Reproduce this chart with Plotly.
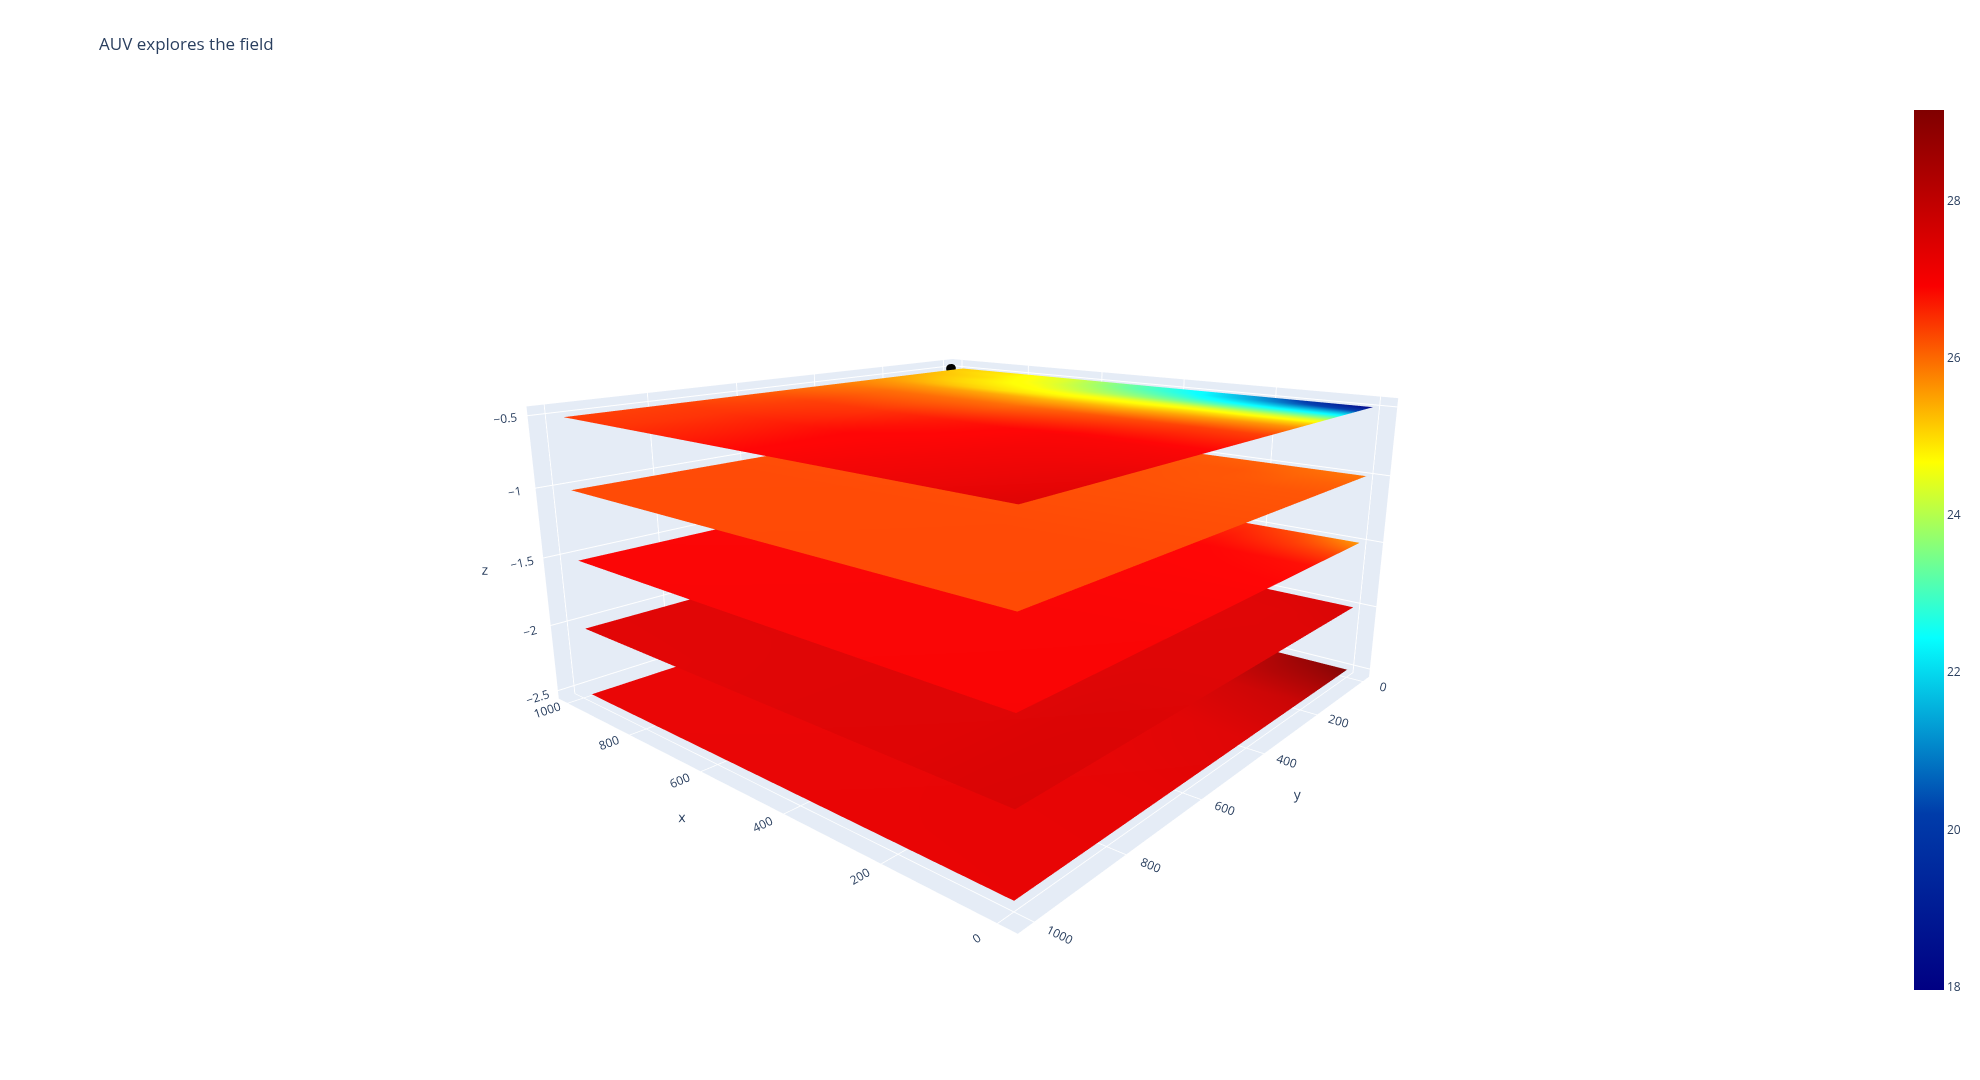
import plotly.graph_objects as go

title_text = "AUV explores the field"
jet_colors = ["rgb(0,0,131)", "rgb(0,60,170)", "rgb(5,255,255)", "rgb(255,255,0)", "rgb(250,0,0)", "rgb(128,0,0)"]
jet_stops = [0.0, 0.2, 0.4, 0.6, 0.8, 1.0]
color_min = 17.96
color_max = 29.15

top_x = [0, 125, 230, 330, 495, 640, 810, 970]
top_y = [0, 50, 100, 150, 200, 250, 300, 400, 600, 800, 1000]
top_values = [
    [18.0, 20.0, 21.3, 22.3, 23.3, 24.2, 24.9, 25.2],
    [19.7, 20.6, 21.6, 22.5, 23.4, 24.3, 24.9, 25.2],
    [21.5, 21.8, 22.3, 22.9, 23.7, 24.4, 25.0, 25.3],
    [22.9, 23.0, 23.2, 23.5, 24.0, 24.6, 25.0, 25.4],
    [24.2, 24.2, 24.3, 24.4, 24.5, 24.8, 25.1, 25.5],
    [25.1, 25.0, 25.0, 24.9, 24.9, 25.0, 25.3, 25.6],
    [25.7, 25.6, 25.5, 25.4, 25.4, 25.5, 25.6, 25.7],
    [26.4, 26.4, 26.3, 26.2, 26.0, 26.0, 26.0, 25.9],
    [27.0, 27.0, 27.0, 26.9, 26.7, 26.5, 26.4, 26.2],
    [27.3, 27.2, 27.1, 27.0, 26.9, 26.7, 26.5, 26.4],
    [27.5, 27.3, 27.2, 27.1, 26.9, 26.7, 26.5, 26.4],
]

low_x = [0, 100, 200, 400, 700, 970]
low_y = [0, 100, 200, 400, 700, 1000]
layer_2_values = [
    [25.9, 26.0, 26.1, 26.2, 26.2, 26.2],
    [26.1, 26.1, 26.2, 26.2, 26.2, 26.2],
    [26.2, 26.2, 26.2, 26.25, 26.25, 26.25],
    [26.25, 26.25, 26.25, 26.25, 26.25, 26.25],
    [26.3, 26.3, 26.3, 26.3, 26.3, 26.3],
    [26.3, 26.3, 26.3, 26.3, 26.3, 26.3],
]
layer_3_values = [
    [25.6, 26.2, 26.5, 26.7, 26.8, 26.8],
    [26.3, 26.5, 26.7, 26.8, 26.85, 26.85],
    [26.8, 26.85, 26.9, 26.9, 26.9, 26.9],
    [26.95, 26.95, 26.95, 26.95, 26.95, 26.95],
    [27.0, 27.0, 27.0, 27.0, 27.0, 27.0],
    [27.0, 27.0, 27.0, 27.0, 27.0, 27.0],
]
layer_4_values = [
    [27.6, 27.55, 27.5, 27.5, 27.5, 27.5],
    [27.55, 27.5, 27.5, 27.5, 27.5, 27.5],
    [27.5, 27.5, 27.5, 27.5, 27.5, 27.5],
    [27.5, 27.5, 27.5, 27.5, 27.5, 27.5],
    [27.55, 27.55, 27.5, 27.5, 27.5, 27.5],
    [27.6, 27.55, 27.5, 27.5, 27.45, 27.45],
]
layer_5_values = [
    [29.15, 28.7, 28.1, 27.7, 27.6, 27.6],
    [28.5, 28.3, 28.0, 27.6, 27.5, 27.5],
    [27.9, 27.8, 27.7, 27.5, 27.45, 27.4],
    [27.5, 27.45, 27.4, 27.4, 27.35, 27.3],
    [27.35, 27.35, 27.35, 27.3, 27.3, 27.3],
    [27.3, 27.3, 27.3, 27.3, 27.3, 27.3],
]
layer_depths = [-0.5, -1.0, -1.5, -2.0, -2.5]

auv_x = [1000, 1000]
auv_y = [10, 6]
auv_z = [-0.503, -0.503]


def plane(depth, xs, ys, values):
    return go.Surface(
        x=xs,
        y=ys,
        z=[[depth] * len(xs) for _ in ys],
        surfacecolor=values,
        coloraxis="coloraxis",
        lighting=dict(specular=0.025, fresnel=0.1),
    )


fig = go.Figure()
fig.add_trace(plane(layer_depths[0], top_x, top_y, top_values))
fig.add_trace(plane(layer_depths[1], low_x, low_y, layer_2_values))
fig.add_trace(plane(layer_depths[2], low_x, low_y, layer_3_values))
fig.add_trace(plane(layer_depths[3], low_x, low_y, layer_4_values))
fig.add_trace(plane(layer_depths[4], low_x, low_y, layer_5_values))
fig.add_trace(go.Scatter3d(
    x=auv_x, y=auv_y, z=auv_z, mode="markers",
    marker=dict(color="black", size=5), showlegend=False,
))
fig.update_layout(
    title=dict(text=title_text),
    width=1980, height=1080,
    coloraxis=dict(
        cmin=color_min, cmax=color_max,
        colorscale=[[s, c] for s, c in zip(jet_stops, jet_colors)],
    ),
    scene=dict(
        aspectmode="manual",
        aspectratio=dict(x=1, y=1, z=0.497),
        camera=dict(eye=dict(x=-1.155, y=1.327, z=0.49)),
    ),
)
fig.write_html(
    "out.html",
    config={"displayModeBar": False},
    post_script="document.body.style.margin='0';",
)
